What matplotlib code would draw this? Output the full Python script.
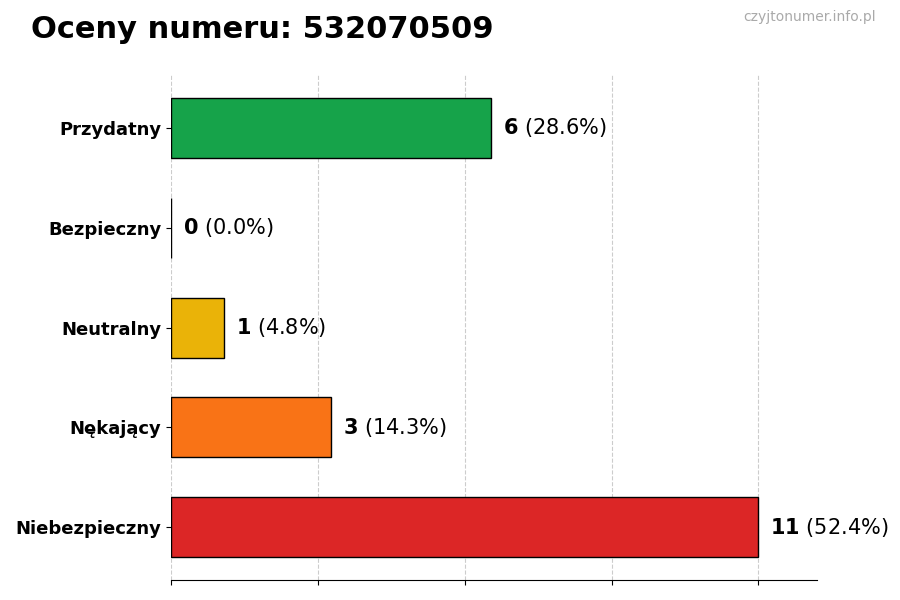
import matplotlib
matplotlib.use("Agg")
import matplotlib.pyplot as plt
import numpy as np

categories = ["Przydatny", "Bezpieczny", "Neutralny", "Nękający", "Niebezpieczny"]
counts = [6, 0, 1, 3, 11]
percents = [28.6, 0.0, 4.8, 14.3, 52.4]
colors = ["#16a34a", "#22c55e", "#eab308", "#f97316", "#dc2626"]

fig = plt.figure(figsize=(9, 6), dpi=100)
ax = fig.add_axes([0.19, 0.033, 0.718, 0.842])
y = np.arange(len(categories))
ax.barh(y, counts, height=0.6, color=colors, edgecolor="black", linewidth=1)
mx = max(counts)
ax.set_xlim(0, mx * 1.1)
ax.set_ylim(len(categories) - 0.47, -0.53)
ax.set_yticks(y)
ax.set_yticklabels(categories, fontsize=13, fontweight="bold")
ax.set_xticks(np.linspace(0, mx, 5))
ax.set_xticklabels([])
ax.grid(axis="x", linestyle="--", color="#cccccc", linewidth=0.8)
ax.set_axisbelow(True)
for s in ["top", "right", "left"]:
    ax.spines[s].set_visible(False)
for yi, c, p in zip(y, counts, percents):
    ax.annotate("", (c, yi))
    ax.text(c + mx * 0.02, yi, f"$\\bf{{{c}}}$ ({p:.1f}%)", va="center", fontsize=15)
fig.text(0.034, 0.95, "Oceny numeru: 532070509", fontsize=22, fontweight="bold", va="center")
fig.text(0.973, 0.972, "czyjtonumer.info.pl", fontsize=10, color="#aaaaaa", ha="right", va="center")
fig.savefig("out.png")
